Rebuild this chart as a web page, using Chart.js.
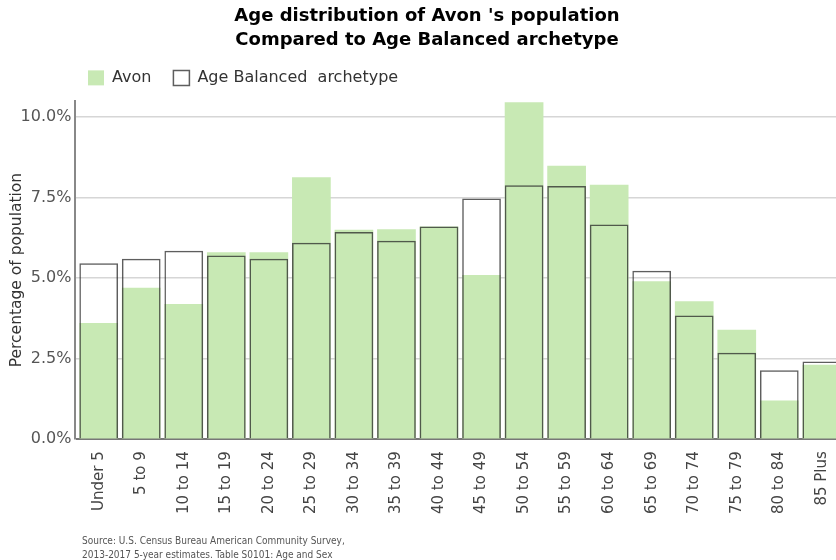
<!DOCTYPE html>
<html>
<head>
<meta charset="utf-8">
<script src="https://cdn.jsdelivr.net/npm/chart.js@4.4.1/dist/chart.umd.min.js"></script>
<style>
  html, body { margin: 0; padding: 0; background: #fff; }
  #wrap { position: relative; width: 836px; height: 560px; overflow: hidden; }
</style>
</head>
<body>
<div id="wrap"><canvas id="ageChart" width="836" height="560"></canvas></div>
<script>
// Data
const ageGroups = ['Under 5', '5 to 9', '10 to 14', '15 to 19', '20 to 24', '25 to 29', '30 to 34', '35 to 39',
  '40 to 44', '45 to 49', '50 to 54', '55 to 59', '60 to 64', '65 to 69', '70 to 74', '75 to 79', '80 to 84', '85 Plus'];
const avonShare = [3.61, 4.70, 4.20, 5.80, 5.80, 8.13, 6.50, 6.52, 6.60, 5.10, 10.46, 8.49, 7.90, 4.90, 4.28, 3.40, 1.20, 2.31];
const archetypeShare = [5.46, 5.60, 5.85, 5.70, 5.60, 6.10, 6.43, 6.16, 6.60, 7.47, 7.88, 7.86, 6.66, 5.23, 3.84, 2.68, 2.14, 2.41];
const yTicks = [0, 2.5, 5, 7.5, 10];
const sourceLines = ['Source: U.S. Census Bureau American Community Survey,',
  '2013-2017 5-year estimates. Table S0101: Age and Sex'];

// Source note under the axis; title and legend nudged to sit over the plot,
// and the category axis stretched a bit past the right edge like the original
const extras = {
  id: 'extras',
  afterLayout(chart) {
    chart.titleBlock.left += 5;
    chart.titleBlock.right += 5;
    chart.legend.left += 58;
    chart.legend.right += 58;
    chart.legend.top -= 5;
    chart.legend.bottom -= 5;
    const x = chart.scales.x;
    x.left += 2;
    x.right += 8;
    x.width = x.right - x.left;
    x.configure();
    chart.chartArea.right += 8;
  },
  afterDraw(chart) {
    const c = chart.ctx;
    c.save();
    c.fillStyle = '#555';
    c.font = '10px "DejaVu Sans Condensed", "Liberation Sans Narrow", sans-serif';
    sourceLines.forEach((line, i) => c.fillText(line, 82, 541 + i * 14));
    c.restore();
  }
};

const ctx = document.getElementById('ageChart').getContext('2d');
new Chart(ctx, {
  type: 'bar',
  data: {
    labels: ageGroups,
    datasets: [{
      label: 'Age Balanced  archetype',
      data: archetypeShare,
      backgroundColor: 'rgba(0,0,0,0)',
      borderColor: 'rgba(40,40,40,0.75)',
      borderWidth: 1.5,
      order: 0
    }, {
      label: 'Avon',
      data: avonShare,
      backgroundColor: '#c8e9b4',
      borderWidth: 0,
      order: 1
    }]
  },
  options: {
    responsive: false,
    animation: false,
    layout: { padding: { left: 8, right: 0, top: 4, bottom: 42 } },
    datasets: {
      bar: { grouped: false, barPercentage: 0.91, categoryPercentage: 1 }
    },
    scales: {
      x: {
        grid: { display: false },
        border: { color: '#777', width: 2 },
        ticks: {
          color: '#444',
          font: { family: 'DejaVu Sans', size: 15 },
          minRotation: 90, maxRotation: 90,
          padding: 4
        }
      },
      y: {
        min: 0,
        max: 10.5,
        afterBuildTicks(axis) {
          axis.ticks = yTicks.map(v => ({ value: v }));
        },
        grid: { color: '#d6d6d6', lineWidth: 1.5, drawTicks: false },
        border: { color: '#888', width: 2 },
        ticks: {
          color: '#555',
          padding: 4,
          font: { family: 'DejaVu Sans', size: 16 },
          callback: v => v.toFixed(1) + '%'
        },
        title: {
          display: true,
          text: 'Percentage of population',
          color: '#333',
          font: { family: 'DejaVu Sans', size: 15.5 },
          padding: { top: 0, bottom: -10 }
        }
      }
    },
    plugins: {
      title: {
        display: true,
        text: ['Age distribution of Avon \'s population', 'Compared to Age Balanced archetype'],
        color: '#000',
        font: { family: 'DejaVu Sans', size: 18, weight: 'bold', lineHeight: 1.33 },
        padding: { top: 0, bottom: 1 }
      },
      legend: {
        position: 'top',
        align: 'start',
        reverse: true,
        labels: {
          color: '#333',
          font: { family: 'DejaVu Sans', size: 16 },
          boxWidth: 16,
          boxHeight: 15,
          padding: 22,
          useBorderRadius: false
        }
      },
      tooltip: { enabled: false }
    }
  },
  plugins: [extras]
});
</script>
</body>
</html>
